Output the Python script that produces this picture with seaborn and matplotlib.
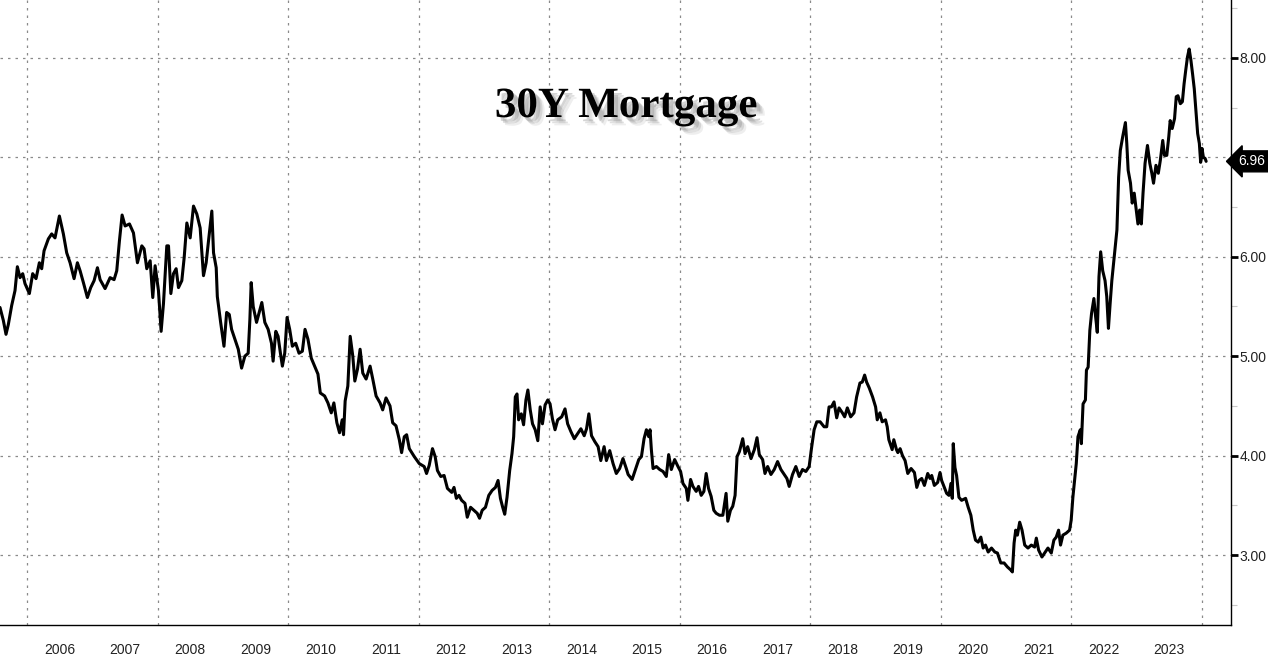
import matplotlib
matplotlib.use("Agg")
import matplotlib.pyplot as plt
import matplotlib.patheffects as pe
import seaborn as sns

# 30Y mortgage rate (decimal year, percent)
years_dec = [
    2005.586, 2005.637, 2005.678, 2005.714, 2005.765, 2005.816, 2005.852, 2005.893, 2005.934, 2005.969,
    2006.036, 2006.087, 2006.138, 2006.189, 2006.225, 2006.261, 2006.327, 2006.378, 2006.429, 2006.496,
    2006.557, 2006.608, 2006.660, 2006.721, 2006.772, 2006.813, 2006.864, 2006.925, 2006.976, 2007.028,
    2007.079, 2007.120, 2007.196, 2007.273, 2007.334, 2007.375, 2007.416, 2007.457, 2007.503, 2007.570,
    2007.631, 2007.692, 2007.759, 2007.794, 2007.835, 2007.887, 2007.927, 2007.963, 2008.014, 2008.055,
    2008.091, 2008.142, 2008.168, 2008.204, 2008.244, 2008.285, 2008.321, 2008.372, 2008.408, 2008.449,
    2008.500, 2008.551, 2008.602, 2008.653, 2008.704, 2008.745, 2008.781, 2008.832, 2008.858, 2008.899,
    2008.916, 2008.967, 2009.018, 2009.059, 2009.099, 2009.135, 2009.186, 2009.237, 2009.288, 2009.338,
    2009.389, 2009.415, 2009.435, 2009.466, 2009.517, 2009.557, 2009.598, 2009.644, 2009.695, 2009.746,
    2009.771, 2009.812, 2009.847, 2009.883, 2009.913, 2009.949, 2009.985, 2010.025, 2010.066, 2010.117,
    2010.168, 2010.219, 2010.260, 2010.305, 2010.356, 2010.407, 2010.458, 2010.494, 2010.560, 2010.611,
    2010.662, 2010.702, 2010.748, 2010.789, 2010.830, 2010.850, 2010.875, 2010.916, 2010.952, 2010.992,
    2011.023, 2011.064, 2011.104, 2011.145, 2011.196, 2011.257, 2011.298, 2011.349, 2011.410, 2011.450,
    2011.501, 2011.562, 2011.603, 2011.654, 2011.705, 2011.740, 2011.781, 2011.817,
    2011.858, 2011.934, 2012.010, 2012.086, 2012.122, 2012.162, 2012.213, 2012.254, 2012.289, 2012.340,
    2012.391, 2012.442, 2012.508, 2012.543, 2012.579, 2012.619, 2012.660, 2012.711, 2012.746, 2012.797,
    2012.848, 2012.898, 2012.934, 2012.975, 2013.025, 2013.076, 2013.127, 2013.178, 2013.218, 2013.254,
    2013.289, 2013.320, 2013.355, 2013.396, 2013.431, 2013.457, 2013.482, 2013.508, 2013.533, 2013.574,
    2013.609, 2013.645, 2013.675, 2013.711, 2013.746, 2013.787, 2013.827, 2013.863, 2013.898, 2013.939,
    2013.980, 2014.015, 2014.051, 2014.091, 2014.132, 2014.193, 2014.244, 2014.284, 2014.335, 2014.386,
    2014.437, 2014.487, 2014.538, 2014.574, 2014.609, 2014.650, 2014.701, 2014.751, 2014.792, 2014.843,
    2014.878, 2014.929, 2014.980, 2015.030, 2015.081, 2015.132, 2015.183,
    2015.211, 2015.272, 2015.323, 2015.374, 2015.415, 2015.455, 2015.491, 2015.527, 2015.547, 2015.567,
    2015.593, 2015.644, 2015.695, 2015.746, 2015.796, 2015.832, 2015.873, 2015.924, 2015.975, 2016.015,
    2016.051, 2016.102, 2016.127, 2016.168, 2016.204, 2016.254, 2016.290, 2016.331, 2016.372, 2016.407,
    2016.443, 2016.483, 2016.524, 2016.560, 2016.611, 2016.662, 2016.712, 2016.738, 2016.779, 2016.814,
    2016.850, 2016.880, 2016.916, 2016.967, 2017.003, 2017.043, 2017.094, 2017.145, 2017.186, 2017.221,
    2017.272, 2017.308, 2017.349, 2017.399, 2017.450, 2017.501, 2017.552, 2017.603, 2017.644, 2017.679,
    2017.730, 2017.781, 2017.832, 2017.883, 2017.934, 2017.985, 2018.020, 2018.061, 2018.102, 2018.153,
    2018.214, 2018.254, 2018.290, 2018.326, 2018.366, 2018.407, 2018.443, 2018.494, 2018.529, 2018.570,
    2018.621, 2018.672, 2018.712, 2018.763, 2018.799, 2018.835, 2018.865, 2018.906, 2018.957, 2019.003,
    2019.028, 2019.069, 2019.104, 2019.155, 2019.181, 2019.206, 2019.257, 2019.282, 2019.323,
    2019.344, 2019.379, 2019.415, 2019.455, 2019.496, 2019.547, 2019.598, 2019.634, 2019.669, 2019.710,
    2019.751, 2019.802, 2019.837, 2019.863, 2019.903, 2019.954, 2019.990, 2020.015, 2020.056, 2020.092,
    2020.127, 2020.158, 2020.178, 2020.193, 2020.219, 2020.244, 2020.280, 2020.321, 2020.382, 2020.422,
    2020.463, 2020.499, 2020.534, 2020.575, 2020.616, 2020.651, 2020.687, 2020.728, 2020.779, 2020.830,
    2020.870, 2020.921, 2020.972, 2021.023, 2021.074, 2021.099, 2021.125, 2021.150, 2021.176, 2021.211,
    2021.247, 2021.288, 2021.338, 2021.389, 2021.440, 2021.466, 2021.501, 2021.552, 2021.593, 2021.644,
    2021.695, 2021.735, 2021.771, 2021.807, 2021.837, 2021.873, 2021.924, 2021.975,
    2022.000, 2022.026, 2022.052, 2022.078, 2022.104, 2022.140, 2022.156, 2022.182, 2022.218, 2022.234,
    2022.260, 2022.286, 2022.312, 2022.348, 2022.374, 2022.400, 2022.426, 2022.452, 2022.483, 2022.519,
    2022.545, 2022.571, 2022.597, 2022.623, 2022.649, 2022.675, 2022.701, 2022.727, 2022.753, 2022.790,
    2022.831, 2022.852, 2022.873, 2022.909, 2022.935, 2022.966, 2022.997, 2023.023, 2023.049, 2023.075,
    2023.101, 2023.132, 2023.169, 2023.205, 2023.236, 2023.262, 2023.299, 2023.335, 2023.366, 2023.403,
    2023.429, 2023.465, 2023.496, 2023.517, 2023.548, 2023.584, 2023.610, 2023.636, 2023.673, 2023.704,
    2023.730, 2023.756, 2023.782, 2023.808, 2023.834, 2023.860, 2023.886, 2023.912, 2023.938, 2023.964,
    2023.984, 2024.005, 2024.026, 2024.052, 2024.068,
]
rates = [
    5.49, 5.36, 5.22, 5.32, 5.51, 5.66, 5.90, 5.79, 5.83, 5.73,
    5.63, 5.83, 5.78, 5.94, 5.88, 6.06, 6.18, 6.23, 6.19, 6.41,
    6.23, 6.04, 5.94, 5.78, 5.94, 5.86, 5.74, 5.59, 5.69, 5.76,
    5.89, 5.77, 5.68, 5.79, 5.77, 5.86, 6.16, 6.42, 6.31, 6.33,
    6.24, 5.94, 6.11, 6.08, 5.88, 5.96, 5.59, 5.91, 5.66, 5.25,
    5.53, 6.11, 6.11, 5.63, 5.83, 5.88, 5.69, 5.76, 5.99, 6.34,
    6.19, 6.51, 6.43, 6.29, 5.81, 5.94, 6.16, 6.46, 6.04, 5.89,
    5.60, 5.34, 5.10, 5.44, 5.42, 5.27, 5.17, 5.07, 4.88, 5.00,
    5.03, 5.37, 5.74, 5.50, 5.34, 5.44, 5.54, 5.34, 5.27, 5.13,
    4.95, 5.25, 5.20, 5.03, 4.90, 5.03, 5.39, 5.27, 5.10, 5.13,
    5.03, 5.05, 5.27, 5.17, 4.98, 4.90, 4.82, 4.63, 4.60, 4.53,
    4.43, 4.53, 4.33, 4.23, 4.36, 4.21, 4.55, 4.70, 5.20, 5.00,
    4.75, 4.87, 5.07, 4.83, 4.77, 4.90, 4.77, 4.60, 4.53, 4.46,
    4.58, 4.50, 4.33, 4.30, 4.16, 4.03, 4.19, 4.21,
    4.07, 3.99, 3.92, 3.89, 3.82, 3.90, 4.07, 3.99, 3.85, 3.79,
    3.80, 3.67, 3.63, 3.68, 3.57, 3.60, 3.55, 3.52, 3.38, 3.48,
    3.45, 3.42, 3.37, 3.45, 3.48, 3.60, 3.65, 3.68, 3.75, 3.57,
    3.48, 3.41, 3.58, 3.85, 4.02, 4.19, 4.59, 4.62, 4.36, 4.42,
    4.31, 4.56, 4.66, 4.46, 4.32, 4.26, 4.15, 4.49, 4.32, 4.51,
    4.56, 4.52, 4.37, 4.26, 4.36, 4.39, 4.47, 4.32, 4.24, 4.17,
    4.22, 4.27, 4.20, 4.27, 4.42, 4.20, 4.14, 4.09, 3.95, 4.09,
    3.95, 4.05, 3.92, 3.82, 3.87, 3.97, 3.87,
    3.81, 3.76, 3.86, 3.96, 3.99, 4.17, 4.26, 4.19, 4.26, 4.06,
    3.87, 3.89, 3.86, 3.84, 3.79, 4.01, 3.86, 3.96, 3.89, 3.84,
    3.72, 3.67, 3.55, 3.76, 3.69, 3.64, 3.69, 3.60, 3.64, 3.82,
    3.67, 3.59, 3.45, 3.42, 3.40, 3.40, 3.62, 3.34, 3.45, 3.49,
    3.60, 3.99, 4.04, 4.17, 4.02, 4.09, 3.97, 4.06, 4.18, 4.01,
    3.96, 3.82, 3.89, 3.81, 3.86, 3.94, 3.86, 3.81, 3.77, 3.69,
    3.81, 3.89, 3.79, 3.86, 3.84, 3.89, 4.07, 4.26, 4.34, 4.34,
    4.29, 4.29, 4.49, 4.49, 4.54, 4.38, 4.48, 4.43, 4.39, 4.48,
    4.39, 4.43, 4.59, 4.73, 4.74, 4.81, 4.74, 4.68, 4.59, 4.49,
    4.36, 4.43, 4.34, 4.36, 4.29, 4.16, 4.06, 4.16, 4.06,
    4.03, 4.07, 4.00, 3.95, 3.82, 3.87, 3.83, 3.68, 3.75, 3.77,
    3.70, 3.82, 3.77, 3.80, 3.70, 3.73, 3.83, 3.75, 3.68, 3.62,
    3.60, 3.72, 3.57, 4.12, 3.88, 3.80, 3.58, 3.55, 3.57, 3.48,
    3.40, 3.25, 3.15, 3.13, 3.18, 3.07, 3.10, 3.03, 3.07, 3.03,
    3.02, 2.92, 2.92, 2.88, 2.85, 2.83, 3.12, 3.25, 3.20, 3.33,
    3.25, 3.10, 3.07, 3.10, 3.08, 3.17, 3.05, 2.98, 3.02, 3.07,
    3.02, 3.15, 3.18, 3.25, 3.10, 3.20, 3.22, 3.25,
    3.35, 3.58, 3.75, 3.92, 4.19, 4.26, 4.12, 4.52, 4.56, 4.86,
    4.89, 5.26, 5.43, 5.58, 5.40, 5.24, 5.80, 6.05, 5.86, 5.76,
    5.60, 5.28, 5.53, 5.76, 5.93, 6.10, 6.27, 6.80, 7.07, 7.21,
    7.35, 7.14, 6.87, 6.74, 6.54, 6.64, 6.47, 6.33, 6.47, 6.33,
    6.64, 6.94, 7.12, 6.94, 6.84, 6.74, 6.92, 6.84, 6.97, 7.17,
    7.02, 7.02, 7.21, 7.37, 7.29, 7.39, 7.61, 7.62, 7.54, 7.56,
    7.74, 7.88, 8.01, 8.09, 7.98, 7.84, 7.69, 7.47, 7.24, 7.14,
    6.95, 7.09, 7.00, 6.99, 6.96,
]

label_years = list(range(2006, 2024))      # year labels on the x axis
boundary_years = list(range(2006, 2025))   # separators below the axis
grid_years = list(range(2006, 2025, 2))    # dotted vertical grid
y_ticks = [3, 4, 5, 6, 7, 8]
y_minor = [2.5, 3.5, 4.5, 5.5, 6.5, 7.5, 8.5]
title = "30Y Mortgage"

sns.set_style("white")
plt.rcParams['font.family'] = ['Liberation Sans', 'DejaVu Sans']

fig = plt.figure(figsize=(12.68, 6.58), dpi=100)
ax = fig.add_axes([0, 33 / 658, 1231 / 1268, 1 - 33 / 658])

sns.lineplot(x=years_dec, y=rates, ax=ax, color='black', lw=2.2, estimator=None, sort=False)

ax.set_xlim(2005.586, 2024.449)
ax.set_ylim(2.296, 8.583)

# dotted grid
for y in y_ticks:
    ax.axhline(y, color='#8a8a8a', lw=0.9, ls=(0, (2, 4)), zorder=0)
for x in grid_years:
    ax.axvline(x, color='#8a8a8a', lw=0.9, ls=(0, (2, 4)), zorder=0)

# spines
ax.spines['left'].set_visible(False)
ax.spines['top'].set_visible(False)
for s in ['right', 'bottom']:
    ax.spines[s].set_color('black')
    ax.spines[s].set_linewidth(1.0)

# y axis on the right
ax.yaxis.tick_right()
ax.set_yticks(y_ticks)
ax.set_yticklabels([f"{v:.2f}" for v in y_ticks])
ax.set_yticks(y_minor, minor=True)
ax.tick_params(axis='y', which='major', direction='out', length=5, width=2,
               color='black', labelsize=10, pad=1, labelcolor='#222222')
ax.tick_params(axis='y', which='minor', direction='out', length=4, width=0.8,
               color='#c8c8c8')

# x axis: separators at year boundaries, labels in the middle of each year
ax.set_xticks(boundary_years)
ax.set_xticklabels([''] * len(boundary_years))
ax.set_xticks([y + 0.5 for y in label_years], minor=True)
ax.set_xticklabels([str(y) for y in label_years], minor=True)
ax.tick_params(axis='x', which='major', direction='out', length=24, width=0.9,
               color='#666666')
ax.tick_params(axis='x', which='minor', length=0, labelsize=10, pad=13,
               labelcolor='#222222')
ax.set_xlabel('')
ax.set_ylabel('')

# last value tag
ax.annotate(f"{rates[-1]:.2f}", xy=(1.0, rates[-1]), xycoords=('axes fraction', 'data'),
            xytext=(5, 0), textcoords='offset points', ha='left', va='center',
            color='white', fontsize=10, zorder=10, annotation_clip=False,
            bbox=dict(boxstyle='larrow,pad=0.25', fc='black', ec='black'))

# title with a soft shadow
fig.text(626 / 1268, 1 - 107 / 658, title, ha='center', va='center',
         family=['Liberation Serif', 'DejaVu Serif'], fontweight='bold', fontsize=31,
         color='black',
         path_effects=[pe.SimplePatchShadow(offset=(6, -6), shadow_rgbFace='#aaaaaa', alpha=0.2),
                       pe.SimplePatchShadow(offset=(4.5, -4.5), shadow_rgbFace='#999999', alpha=0.3),
                       pe.SimplePatchShadow(offset=(3, -3), shadow_rgbFace='#888888', alpha=0.35),
                       pe.Normal()])

fig.savefig('out.png', dpi=100, facecolor='white')
